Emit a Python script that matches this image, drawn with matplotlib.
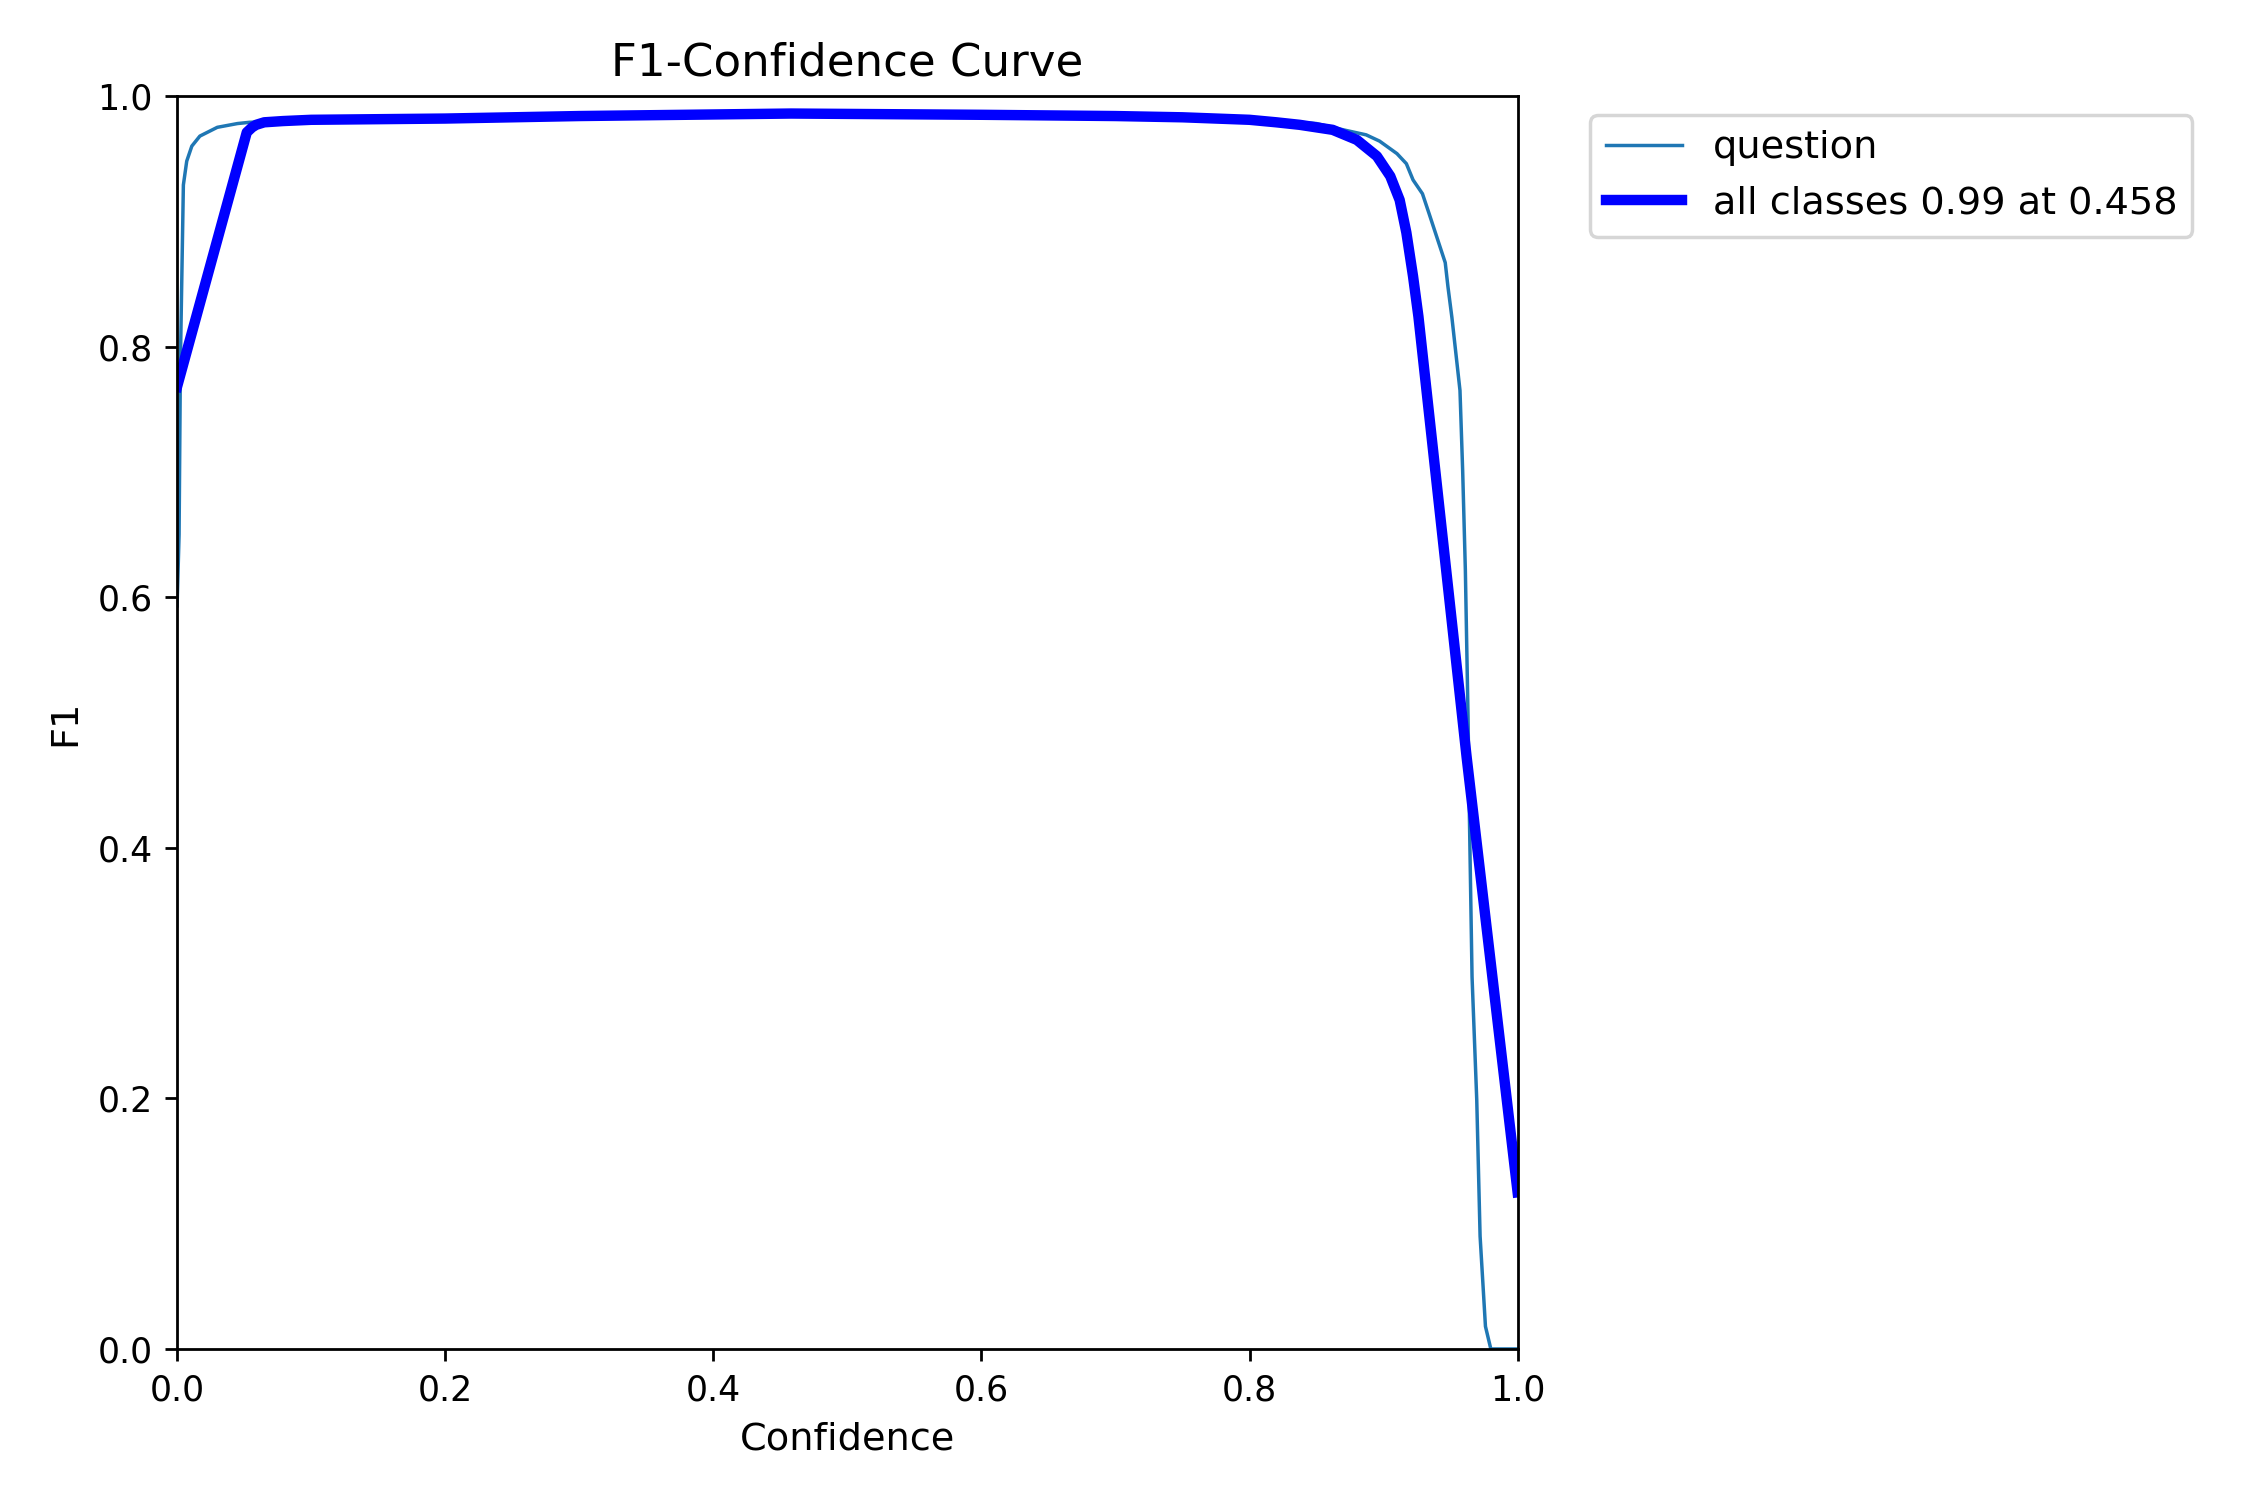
import matplotlib
matplotlib.use("Agg")
import matplotlib.pyplot as plt

# per-class F1 curve ("question")
conf_q = [0.0, 0.0015, 0.0025, 0.0047, 0.0072, 0.011, 0.017, 0.030, 0.045, 0.054,
          0.10, 0.20, 0.30, 0.45, 0.60, 0.70, 0.80, 0.85, 0.870, 0.887, 0.897,
          0.910, 0.917, 0.922, 0.929, 0.934, 0.942, 0.946, 0.948, 0.951, 0.957,
          0.959, 0.961, 0.963, 0.964, 0.966, 0.9695, 0.972, 0.976, 0.980, 1.0]
f1_q = [0.593, 0.65, 0.789, 0.929, 0.948, 0.960, 0.968, 0.975, 0.978, 0.979,
        0.981, 0.983, 0.985, 0.986, 0.986, 0.985, 0.982, 0.978, 0.973, 0.969, 0.964,
        0.954, 0.946, 0.933, 0.922, 0.906, 0.880, 0.867, 0.848, 0.823, 0.765,
        0.701, 0.622, 0.505, 0.427, 0.297, 0.199, 0.090, 0.018, 0.0, 0.0]

# all-classes (smoothed) curve
conf_all = [0.0, 0.052, 0.056, 0.059, 0.065, 0.079, 0.10, 0.20, 0.30, 0.458, 0.60,
            0.70, 0.75, 0.80, 0.82, 0.8374, 0.862, 0.880, 0.895, 0.905, 0.912,
            0.917, 0.922, 0.926, 0.962, 1.0]
f1_all = [0.768, 0.971, 0.975, 0.977, 0.979, 0.980, 0.981, 0.982, 0.984, 0.986, 0.985,
          0.984, 0.983, 0.981, 0.979, 0.977, 0.973, 0.965, 0.952, 0.936, 0.917,
          0.891, 0.856, 0.824, 0.472, 0.125]

class_name = "question"
best_f1 = 0.99
best_conf = 0.458

fig, ax = plt.subplots(1, 1, figsize=(9, 6))
fig.subplots_adjust(left=0.0787, right=0.6745, bottom=0.1007, top=0.936)
ax.plot(conf_q, f1_q, linewidth=1, label=class_name)
ax.plot(conf_all, f1_all, linewidth=3, color="blue",
        label="all classes %.2f at %.3f" % (best_f1, best_conf))
ax.set_xlabel("Confidence", fontsize=11)
ax.set_ylabel("F1", fontsize=11)
ax.set_xlim(0, 1)
ax.set_ylim(0, 1)
ax.legend(bbox_to_anchor=(1.04, 1), loc="upper left", fontsize=11)
ax.set_title("F1-Confidence Curve", fontsize=13)
fig.savefig("out.png", dpi=250)
